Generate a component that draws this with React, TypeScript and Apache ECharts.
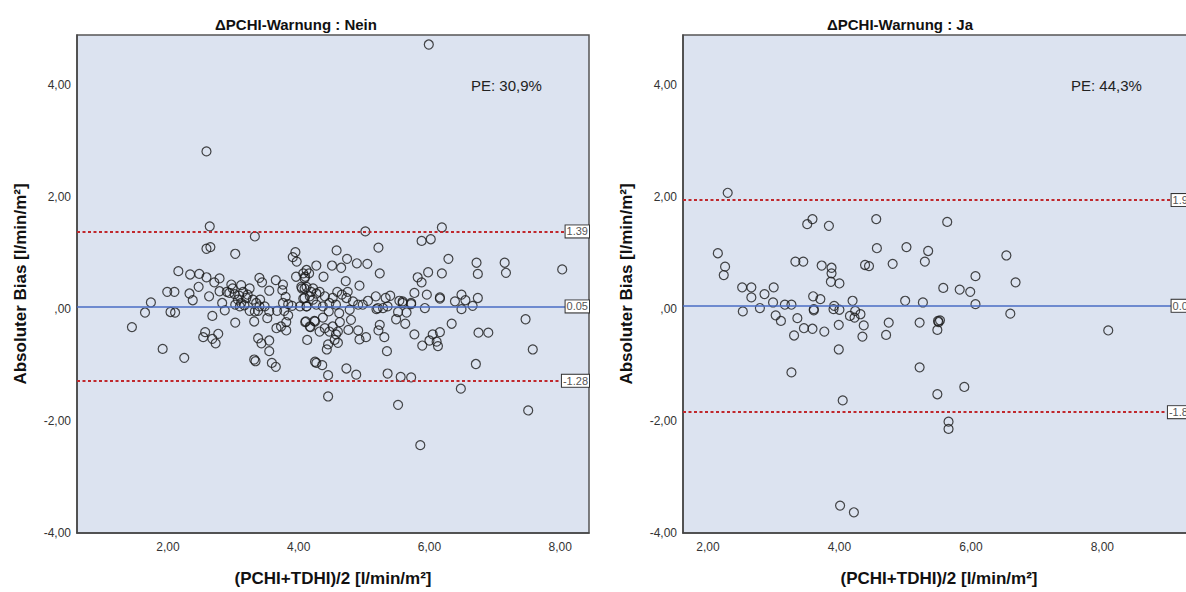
import React, { useEffect, useRef } from "react";
import * as echarts from "echarts";

// ---- data ----
const PANEL_TITLES = ["ΔPCHI-Warnung : Nein", "ΔPCHI-Warnung : Ja"];
const PE_LABELS = ["PE: 30,9%", "PE: 44,3%"];
const X_TITLE = "(PCHI+TDHI)/2 [l/min/m²]";
const Y_TITLE = "Absoluter Bias [l/min/m²]";
const X_MIN = [0.61, 1.62];
const X_MAX = [8.44, 9.41];
const Y_MIN = -4;
const Y_MAX = 4.9;
// upper LoA, mean bias, lower LoA
const NEIN_LIMITS = [1.39, 0.05, -1.28];
const JA_LIMITS = [1.95, 0.06, -1.84];

const NEIN_POINTS: [number, number][] = [
  [1.45, -0.32], [1.65, -0.06], [1.74, 0.12], [1.92, -0.71], [1.99, 0.31], [2.04, -0.05], [2.10, 0.31], [2.11, -0.06],
  [2.16, 0.68], [2.25, -0.87], [2.33, 0.28], [2.34, 0.62], [2.38, 0.16], [2.47, 0.40], [2.48, 0.63], [2.54, -0.50],
  [2.57, -0.41], [2.59, 0.57], [2.59, 1.08], [2.59, 2.82], [2.63, 0.23], [2.65, 1.11], [2.64, 1.48], [2.68, -0.12],
  [2.68, -0.53], [2.71, 0.48], [2.73, -0.61], [2.77, -0.44], [2.79, 0.55], [2.79, 0.32], [2.83, 0.11], [2.87, -0.02],
  [3.03, 0.99], [3.03, -0.24],
  [2.97, 0.44], [2.99, 0.37], [2.94, 0.29], [3.02, 0.27], [3.09, 0.24], [3.12, 0.43], [3.07, 0.17], [3.12, 0.11],
  [3.20, 0.20], [3.25, 0.37], [3.22, 0.26], [3.30, 0.17], [3.35, 0.11], [3.15, 0.31], [3.03, 0.08], [3.10, 0.05],
  [3.17, 0.07], [3.25, -0.03], [3.33, -0.04], [3.38, -0.03], [3.41, 0.17], [3.40, 0.05], [2.90, 0.31],
  [3.32, -0.22], [3.33, 1.30], [3.38, -0.52], [3.43, -0.61], [3.55, -0.56], [3.55, -0.75], [3.32, -0.90], [3.34, -0.93],
  [3.59, -0.96], [3.65, -1.03], [3.40, 0.56], [3.44, 0.48], [3.55, 0.33], [3.65, 0.52], [3.76, 0.44], [3.75, 0.34],
  [3.80, 0.22], [3.76, 0.11], [3.84, 0.09], [3.90, 0.06], [3.78, -0.03], [3.67, -0.03], [3.84, -0.11], [3.81, -0.23],
  [3.73, -0.31], [3.66, -0.34], [3.81, -0.38], [3.52, -0.16], [3.48, 0.05], [3.55, -0.04], [3.96, 0.58], [3.95, 1.02],
  [3.91, 0.93], [3.97, 0.85], [4.09, 0.55], [4.12, 0.70], [4.16, 0.64], [4.09, 0.37], [4.04, 0.40], [4.19, 0.31],
  [4.07, 0.19], [4.12, 0.05], [4.02, 0.05], [4.10, -0.23], [4.18, -0.32], [4.13, -0.55], [4.25, -0.22], [4.27, 0.78],
  [4.25, -0.94], [4.27, -0.96],
  [5.02, 1.39], [6.19, 1.46], [5.88, 1.22], [6.02, 1.25], [5.22, 1.10], [4.58, 1.05], [4.74, 0.90], [4.51, 0.78],
  [4.65, 0.74], [4.89, 0.82], [5.05, 0.81], [6.29, 0.90], [6.72, 0.83], [7.15, 0.83], [6.74, 0.63], [7.17, 0.65],
  [8.03, 0.71], [5.24, 0.64], [5.98, 0.66], [6.19, 0.64], [5.82, 0.57], [5.88, 0.48],
  [4.10, 0.58], [4.07, 0.64], [4.12, 0.40], [4.05, 0.37], [4.22, 0.37], [4.27, 0.28], [4.17, 0.23], [4.32, 0.31],
  [4.38, 0.58], [4.72, 0.50], [4.93, 0.42], [4.75, 0.31], [4.59, 0.31], [4.66, 0.26], [4.52, 0.20], [4.09, 0.20],
  [4.22, 0.17], [4.40, 0.23], [4.47, 0.11], [4.57, 0.08], [4.73, 0.20], [4.83, 0.14], [4.91, 0.08], [4.98, 0.08],
  [4.78, -0.01], [4.62, -0.07], [4.46, -0.04], [4.37, 0.05], [4.27, 0.08], [4.12, 0.05],
  [4.11, -0.22], [4.24, -0.21], [4.17, -0.31], [4.37, -0.15], [4.40, -0.34], [4.47, -0.40], [4.52, -0.31], [4.57, -0.45],
  [4.60, -0.40], [4.63, -0.23], [4.55, -0.55], [4.45, -0.63], [4.43, -0.72], [4.60, -0.60], [4.76, -0.37], [4.80, -0.19],
  [4.91, -0.38], [5.03, -0.50], [4.93, -0.54], [4.32, -0.40], [4.36, -1.00],
  [5.18, 0.23], [5.40, 0.24], [5.33, 0.20], [5.54, 0.15], [5.59, 0.14], [5.72, 0.11], [5.77, 0.29], [5.96, 0.26],
  [6.16, 0.21], [6.16, 0.19], [6.39, 0.14], [6.49, 0.26], [6.55, 0.16], [6.74, 0.20], [6.49, 0.00], [6.66, 0.06],
  [5.93, 0.02], [5.72, 0.09], [5.59, 0.11], [5.21, 0.02], [5.29, 0.02], [5.36, 0.05], [5.19, 0.00], [5.06, 0.15],
  [5.52, -0.05], [5.65, -0.06], [5.49, -0.18], [5.63, -0.26], [5.24, -0.28], [5.22, -0.38], [5.31, -0.50], [5.77, -0.45],
  [5.89, -0.65], [6.00, -0.56], [6.05, -0.45], [6.16, -0.41], [6.11, -0.58], [6.13, -0.66], [6.34, -0.26], [6.75, -0.42],
  [6.90, -0.42], [7.47, -0.18], [7.58, -0.72], [5.35, -0.75], [6.71, -0.98], [6.48, -1.42], [5.72, -1.22], [5.56, -1.21],
  [5.36, -1.15], [4.88, -1.17], [4.73, -1.06], [4.45, -1.18],
  [5.99, 4.73], [4.45, -1.56], [5.52, -1.71], [5.86, -2.43], [7.51, -1.81],
];

const JA_POINTS: [number, number][] = [
  [2.30, 2.08], [2.15, 1.00], [2.26, 0.76], [2.24, 0.61], [2.52, 0.39], [2.66, 0.39], [2.66, 0.21], [2.86, 0.27],
  [3.00, 0.39], [2.53, -0.04], [2.79, 0.02], [2.99, 0.12], [3.17, 0.08], [3.27, 0.08], [3.03, -0.11], [3.11, -0.21],
  [3.36, -0.16], [3.46, -0.34], [3.59, -0.35], [3.31, -0.47], [3.27, -1.13], [3.33, 0.85], [3.45, 0.85], [3.51, 1.52],
  [3.59, 1.61], [3.84, 1.49], [3.73, 0.78], [3.88, 0.74], [3.88, 0.64], [3.87, 0.49], [4.00, 0.46], [3.60, 0.23],
  [3.71, 0.18], [3.61, 0.00], [3.61, -0.02], [3.92, 0.06], [3.91, 0.00], [4.00, -0.01], [3.77, -0.40], [3.99, -0.28],
  [3.99, -0.72], [4.20, 0.15], [4.24, -0.03], [4.16, -0.12], [4.23, -0.15], [4.32, -0.09], [4.37, -0.29], [4.35, -0.49],
  [4.05, -1.63], [4.56, 1.61], [4.57, 1.09], [4.39, 0.79], [4.45, 0.77], [4.81, 0.81], [5.02, 1.11], [5.35, 1.04],
  [5.30, 0.85], [4.75, -0.24], [4.71, -0.46], [5.00, 0.15], [5.27, 0.12], [5.22, -0.24], [5.22, -1.04], [5.50, -0.21],
  [5.53, -0.20], [5.51, -0.23], [5.49, -0.37], [5.64, 1.56], [5.58, 0.38], [5.83, 0.35], [5.99, 0.31], [6.07, 0.59],
  [6.07, 0.09], [5.90, -1.39], [5.49, -1.52], [6.54, 0.96], [6.68, 0.48], [6.60, -0.08], [8.09, -0.38], [5.66, -2.01],
  [5.66, -2.14], [4.01, -3.51], [4.22, -3.63],
];

const GRID_LEFTS = [77, 683];
const GRID_TOP = 35;
const GRID_W = 512;
const GRID_H = 502;

const FONT = '"Liberation Sans", Arial, Helvetica, sans-serif';

function fmtTick(v: number): string {
  if (Math.abs(v / 2 - Math.round(v / 2)) > 1e-6) return "";
  if (Math.abs(v) < 1e-9) return ",00";
  return v.toFixed(2).replace(".", ",");
}

function limitLines(limits: number[]) {
  const label = (v: number) => ({
    show: true,
    position: "insideEnd",
    distance: 0,
    formatter: v.toFixed(2),
    fontSize: 11,
    fontFamily: FONT,
    color: "#555",
    backgroundColor: "#fff",
    borderColor: "#333",
    borderWidth: 1,
    padding: [1, 1, 0, 1],
  });
  const red = { color: "#c0282d", width: 2, type: [3, 2.5] };
  const blue = { color: "#4a6cc4", width: 1.5, type: "solid" };
  return {
    silent: true,
    symbol: "none",
    animation: false,
    data: [
      { yAxis: limits[0], lineStyle: red, label: label(limits[0]) },
      { yAxis: limits[1], lineStyle: blue, label: label(limits[1]) },
      { yAxis: limits[2], lineStyle: red, label: label(limits[2]) },
    ],
  };
}

export default function App() {
  const ref = useRef<HTMLDivElement>(null);
  useEffect(() => {
    if (!ref.current) return;
    const chart = echarts.init(ref.current, undefined, { renderer: "svg" });
    const grids = GRID_LEFTS.map((left) => ({
      left,
      top: GRID_TOP,
      width: GRID_W,
      height: GRID_H,
      show: true,
      backgroundColor: "#dce3f0",
      borderColor: "#555",
      borderWidth: 1.5,
    }));
    const xAxes = [0, 1].map((i) => ({
      type: "value",
      gridIndex: i,
      min: X_MIN[i],
      max: X_MAX[i],
      splitNumber: 4,
      splitLine: { show: false },
      axisTick: { show: false },
      axisLine: { show: true, onZero: false, lineStyle: { color: "#444", width: 1.5 } },
      axisLabel: { formatter: fmtTick, fontSize: 12, fontFamily: FONT, color: "#333", margin: 8 },
      name: X_TITLE,
      nameLocation: "middle",
      nameGap: 37,
      nameTextStyle: { fontSize: 17, fontWeight: "bold", fontFamily: FONT, color: "#111" },
    }));
    const yAxes = [0, 1].map((i) => ({
      type: "value",
      gridIndex: i,
      min: Y_MIN,
      max: Y_MAX,
      interval: 2,
      splitLine: { show: false },
      axisTick: { show: false },
      axisLine: { show: true, onZero: false, lineStyle: { color: "#444", width: 1.5 } },
      axisLabel: { formatter: fmtTick, fontSize: 12, fontFamily: FONT, color: "#333", margin: 6 },
      name: Y_TITLE,
      nameLocation: "middle",
      nameGap: 48,
      nameTextStyle: { fontSize: 17, fontWeight: "bold", fontFamily: FONT, color: "#111" },
    }));
    const pointStyle = {
      color: "rgba(0,0,0,0)",
      borderColor: "#1a1a1a",
      borderWidth: 1.2,
    };
    const series = [NEIN_POINTS, JA_POINTS].map((pts, i) => ({
      type: "scatter",
      xAxisIndex: i,
      yAxisIndex: i,
      data: pts,
      symbol: "circle",
      symbolSize: 9,
      itemStyle: pointStyle,
      emphasis: { disabled: true },
      markLine: limitLines(i === 0 ? NEIN_LIMITS : JA_LIMITS),
    }));
    const titleCenters = [296, 900];
    const graphic: any[] = [];
    PANEL_TITLES.forEach((t, i) => {
      graphic.push({
        type: "text",
        x: titleCenters[i],
        y: 24,
        silent: true,
        style: {
          text: t,
          align: "center",
          verticalAlign: "middle",
          fontSize: 15,
          fontWeight: "bold",
          fontFamily: FONT,
          fill: "#111",
        },
      });
    });
    const peLefts = [471, 1071];
    PE_LABELS.forEach((t, i) => {
      graphic.push({
        type: "text",
        x: peLefts[i],
        y: 85,
        silent: true,
        style: {
          text: t,
          align: "left",
          verticalAlign: "middle",
          fontSize: 15,
          fontFamily: FONT,
          fill: "#222",
        },
      });
    });
    chart.setOption({
      animation: false,
      backgroundColor: "#fff",
      grid: grids,
      xAxis: xAxes,
      yAxis: yAxes,
      series,
      graphic,
    });
    return () => chart.dispose();
  }, []);
  return (
    <div
      style={{
        position: "absolute",
        left: 0,
        top: 0,
        width: 1186,
        height: 592,
        overflow: "hidden",
        background: "#fff",
      }}
    >
      <div ref={ref} style={{ width: 1210, height: 592 }} />
    </div>
  );
}
